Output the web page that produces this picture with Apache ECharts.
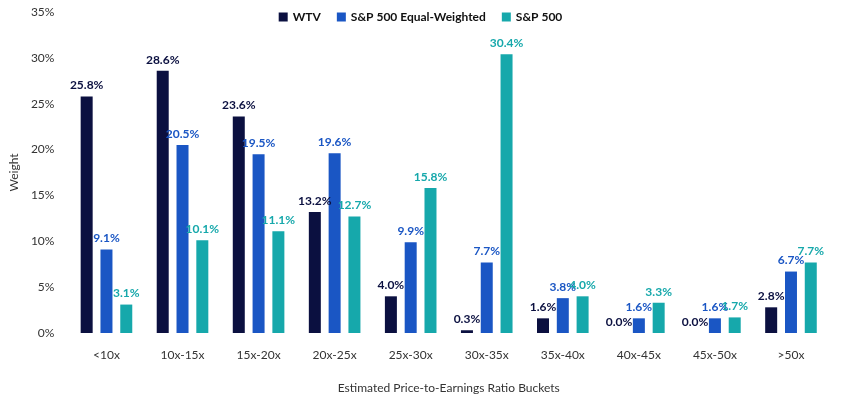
<!DOCTYPE html>
<html>
<head>
<meta charset="utf-8">
<script src="https://cdn.jsdelivr.net/npm/echarts@6/dist/echarts.min.js"></script>
<style>html,body{margin:0;padding:0;background:#fff}#chart{width:841px;height:400px}</style>
</head>
<body>
<div id="chart"></div>
<script>
var categories = ['<10x','10x-15x','15x-20x','20x-25x','25x-30x','30x-35x','35x-40x','40x-45x','45x-50x','>50x'];
var wtv = [25.8, 28.6, 23.6, 13.2, 4.0, 0.3, 1.6, 0.0, 0.0, 2.8];
var spEqual = [9.1, 20.5, 19.5, 19.6, 9.9, 7.7, 3.8, 1.6, 1.6, 6.7];
var sp500 = [3.1, 10.1, 11.1, 12.7, 15.8, 30.4, 4.0, 3.3, 1.7, 7.7];

var font = 'Lato, "Noto Sans", sans-serif';
function series(name, data, color) {
    return {
        name: name,
        type: 'bar',
        data: data,
        barWidth: 12,
        barGap: '65%',
        itemStyle: {color: color},
        label: {
            show: true,
            position: 'top',
            color: color,
            fontWeight: 'bold',
            fontSize: 12,
            fontFamily: font,
            formatter: function (p) { return p.value.toFixed(1) + '%'; }
        }
    };
}

var myChart = echarts.init(document.getElementById('chart'));
var option = {
    animation: false,
    textStyle: {fontFamily: font},
    legend: {
        top: 6,
        left: 'center',
        itemWidth: 9,
        itemHeight: 9,
        itemGap: 16,
        icon: 'rect',
        textStyle: {fontWeight: 'bold', fontSize: 12, color: '#111', fontFamily: font}
    },
    grid: {left: 60, right: 12, top: 12, bottom: 67},
    xAxis: {
        type: 'category',
        data: categories,
        axisLine: {show: false},
        axisTick: {show: false},
        axisLabel: {color: '#333', fontSize: 12, margin: 16},
        name: 'Estimated Price-to-Earnings Ratio Buckets',
        nameLocation: 'middle',
        nameGap: 49,
        nameTextStyle: {color: '#333', fontSize: 12}
    },
    yAxis: {
        type: 'value',
        min: 0,
        max: 35,
        interval: 5,
        splitLine: {show: false},
        axisLabel: {color: '#333', fontSize: 12, formatter: '{value}%', margin: 14},
        name: 'Weight',
        nameLocation: 'middle',
        nameGap: 46,
        nameTextStyle: {color: '#333', fontSize: 12}
    },
    series: [
        series('WTV', wtv, '#0b1040'),
        series('S&P 500 Equal-Weighted', spEqual, '#1a56c4'),
        series('S&P 500', sp500, '#16a8ab')
    ]
};
myChart.setOption(option);
</script>
</body>
</html>
